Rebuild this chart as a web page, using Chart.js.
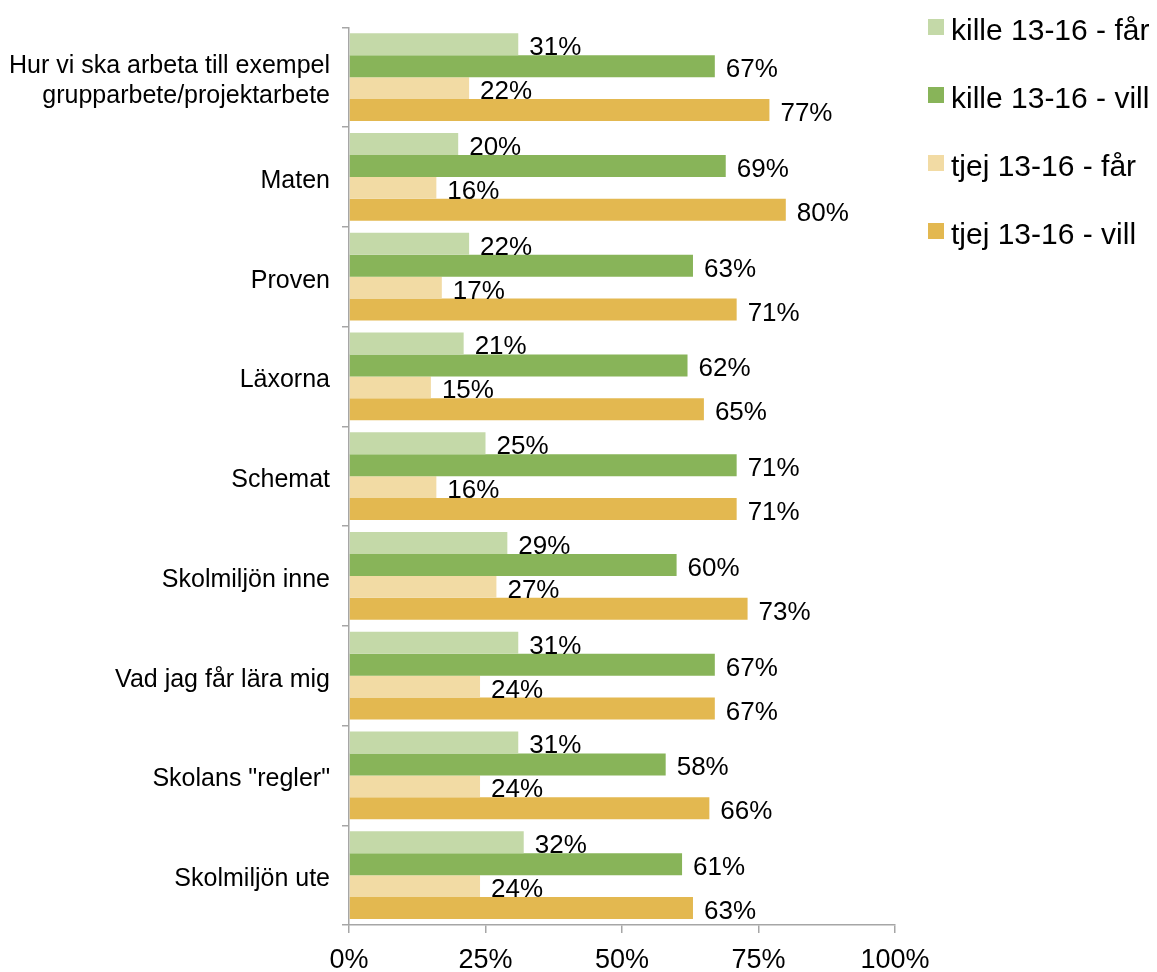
<!DOCTYPE html>
<html lang="sv">
<head>
    <meta charset="UTF-8">
    <title>kille / tjej 13-16 - får / vill</title>
    <script src="https://cdn.jsdelivr.net/npm/chart.js"></script>
    <style>
        html, body { margin: 0; padding: 0; background: #fff; }
        #wrap { width: 1157px; height: 972px; }
    </style>
</head>
<body>
    <div id="wrap"><canvas id="chart" width="1157" height="972"></canvas></div>

    <script>
        // Categories (top to bottom)
        const categories = [
            ['Hur vi ska arbeta till exempel', 'grupparbete/projektarbete'],
            'Maten',
            'Proven',
            'Läxorna',
            'Schemat',
            'Skolmiljön inne',
            'Vad jag får lära mig',
            'Skolans "regler"',
            'Skolmiljön ute'
        ];

        const seriesNames = ['kille 13-16 - får', 'kille 13-16 - vill', 'tjej 13-16 - får', 'tjej 13-16 - vill'];

        // Values in percent
        const killeFar  = [31, 20, 22, 21, 25, 29, 31, 31, 32];
        const killeVill = [67, 69, 63, 62, 71, 60, 67, 58, 61];
        const tjejFar   = [22, 16, 17, 15, 16, 27, 24, 24, 24];
        const tjejVill  = [77, 80, 71, 65, 71, 73, 67, 66, 63];

        const xTicks = [0, 25, 50, 75, 100];

        const FONT = "'Liberation Sans', Arial, sans-serif";
        const AXIS = '#a6a6a6';

        // value labels next to each bar
        const barLabels = {
            id: 'barLabels',
            afterDatasetsDraw(chart) {
                const ctx = chart.ctx;
                ctx.save();
                ctx.font = '26px ' + FONT;
                ctx.fillStyle = '#000';
                ctx.textAlign = 'left';
                ctx.textBaseline = 'alphabetic';
                chart.data.datasets.forEach((ds, i) => {
                    chart.getDatasetMeta(i).data.forEach((bar, j) => {
                        ctx.fillText(ds.data[j] + '%', bar.x + 11, bar.y + 11);
                    });
                });
                ctx.restore();
            }
        };

        // legend on the right, one row per series
        const sideLegend = {
            id: 'sideLegend',
            afterDraw(chart) {
                const ctx = chart.ctx;
                ctx.save();
                ctx.font = '30px ' + FONT;
                ctx.textBaseline = 'alphabetic';
                chart.data.datasets.forEach((ds, i) => {
                    const cy = 27 + i * 68;
                    ctx.fillStyle = ds.backgroundColor;
                    ctx.fillRect(928, cy - 8, 16, 16);
                    ctx.fillStyle = '#000';
                    ctx.fillText(ds.label, 951, cy + 13);
                });
                ctx.restore();
            }
        };

        const colors = ['#c4d9a8', '#88b459', '#f2dba4', '#e3b850'];
        const values = [killeFar, killeVill, tjejFar, tjejVill];

        new Chart(document.getElementById('chart'), {
            type: 'bar',
            data: {
                labels: categories,
                datasets: seriesNames.map((name, i) => ({
                    label: name,
                    data: values[i],
                    backgroundColor: colors[i],
                    borderWidth: 0,
                    categoryPercentage: 0.88,
                    barPercentage: 1.0
                }))
            },
            options: {
                indexAxis: 'y',
                responsive: false,
                animation: false,
                layout: { padding: { top: 27, right: 262, left: 0, bottom: 0 } },
                plugins: {
                    legend: { display: false },
                    tooltip: { enabled: false }
                },
                scales: {
                    x: {
                        min: 0,
                        max: 100,
                        afterBuildTicks(scale) {
                            scale.ticks = xTicks.map(v => ({ value: v }));
                        },
                        afterFit(scale) { scale.height = 47; },
                        grid: { drawOnChartArea: false, drawTicks: true, tickLength: 8, color: AXIS, lineWidth: 1.5 },
                        border: { color: AXIS, width: 1.5 },
                        ticks: {
                            callback: v => v + '%',
                            font: { family: FONT, size: 27 },
                            color: '#000',
                            padding: 11,
                            maxRotation: 0
                        }
                    },
                    y: {
                        afterFit(scale) { scale.width = 349; },
                        grid: { drawOnChartArea: false, drawTicks: true, tickLength: 7, offset: true, color: AXIS, lineWidth: 1.5 },
                        border: { color: AXIS, width: 1.5 },
                        ticks: {
                            font: { family: FONT, size: 25, lineHeight: 1.22 },
                            color: '#000',
                            padding: 12,
                            labelOffset: 4,
                            autoSkip: false
                        }
                    }
                }
            },
            plugins: [barLabels, sideLegend]
        });
    </script>
</body>
</html>
